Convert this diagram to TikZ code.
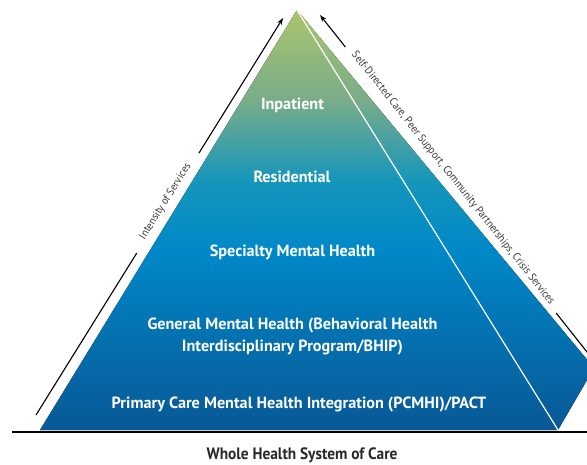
\documentclass[tikz,border=0pt]{standalone}
\usepackage{fontspec}
\setmainfont{PT Sans}
\newfontfamily\condfont[FakeStretch=0.93]{PT Sans}
\usetikzlibrary{calc,arrows.meta}
\definecolor{sidetext}{RGB}{58,58,58}
\definecolor{titletext}{RGB}{40,40,40}
\pgfdeclareverticalshading{pyr}{100bp}{%
  rgb(0bp)=(0.035,0.345,0.588);
  rgb(25bp)=(0.035,0.345,0.588);
  rgb(46.4bp)=(0,0.533,0.784);
  rgb(54.8bp)=(0.086,0.588,0.729);
  rgb(64.3bp)=(0.478,0.675,0.541);
  rgb(75bp)=(0.667,0.773,0.424);
  rgb(100bp)=(0.667,0.773,0.424)}
\begin{document}
\begin{tikzpicture}[x=1pt,y=-1pt,
  lbl/.style={text=white,font=\fontsize{16.2}{19}\selectfont\bfseries,anchor=base,inner sep=0pt},
  sidelbl/.style={text=sidetext,font=\condfont\fontsize{11}{13}\selectfont,anchor=base,inner sep=0pt},
  arrline/.style={line width=1.1pt,draw=black},
  arrtip/.style={arrline,-{Stealth[length=7pt,width=5pt]}}]
\useasboundingbox (0,0) rectangle (587,465);
\clip (0,0) rectangle (587,465);
% pyramid
\coordinate (apex) at (297,10);
\coordinate (bl) at (40,430);
\coordinate (br) at (558,430);
\coordinate (sr) at (594,368);
\fill[shading=pyr] (apex) -- (bl) -- (br) -- (sr) -- cycle;
\draw[white,line width=1.2pt] (apex) -- (br);
% ground line
\coordinate (g1) at (12,432);
\coordinate (g2) at (592,432);
\draw[line width=2pt] (g1) -- (g2);
% left arrow
\coordinate (lb) at (36,415);
\coordinate (lt) at (283,18);
\draw[arrline] (lb) -- ($(lb)!0.408!(lt)$);
\draw[arrtip] ($(lb)!0.66!(lt)$) -- (lt);
\node[sidelbl,rotate=58.1] (lint) at ($(lb)!0.534!(lt)$) {Intensity of Services};
% right arrow
\coordinate (rt) at (320,15);
\coordinate (rb) at (600,368.4);
\draw[arrtip] ($(rt)!0.0906!(rb)$) -- (rt);
\draw[arrline] ($(rt)!0.843!(rb)$) -- (rb);
\node[sidelbl,rotate=-51.6] (rself) at ($(rt)!0.467!(rb)$) {Self-Directed Care, Peer Support, Community Partnerships, Crisis Services};
% labels
\node[lbl] (inp) at (292.5,110) {Inpatient};
\node[lbl] (res) at (292,183) {Residential};
\node[lbl] (spec) at (292.5,256.7) {Specialty Mental Health};
\node[lbl] (gen1) at (292.5,329.3) {General Mental Health (Behavioral Health};
\node[lbl] (gen2) at (292.5,351.7) {Interdisciplinary Program/BHIP)};
\node[lbl] (pc) at (299,409) {Primary Care Mental Health Integration (PCMHI)/PACT};
% title
\node[text=titletext,font=\condfont\fontsize{16.5}{19}\selectfont\bfseries,anchor=base,inner sep=0pt] (title) at (302,459) {Whole Health System of Care};
\end{tikzpicture}
\end{document}
